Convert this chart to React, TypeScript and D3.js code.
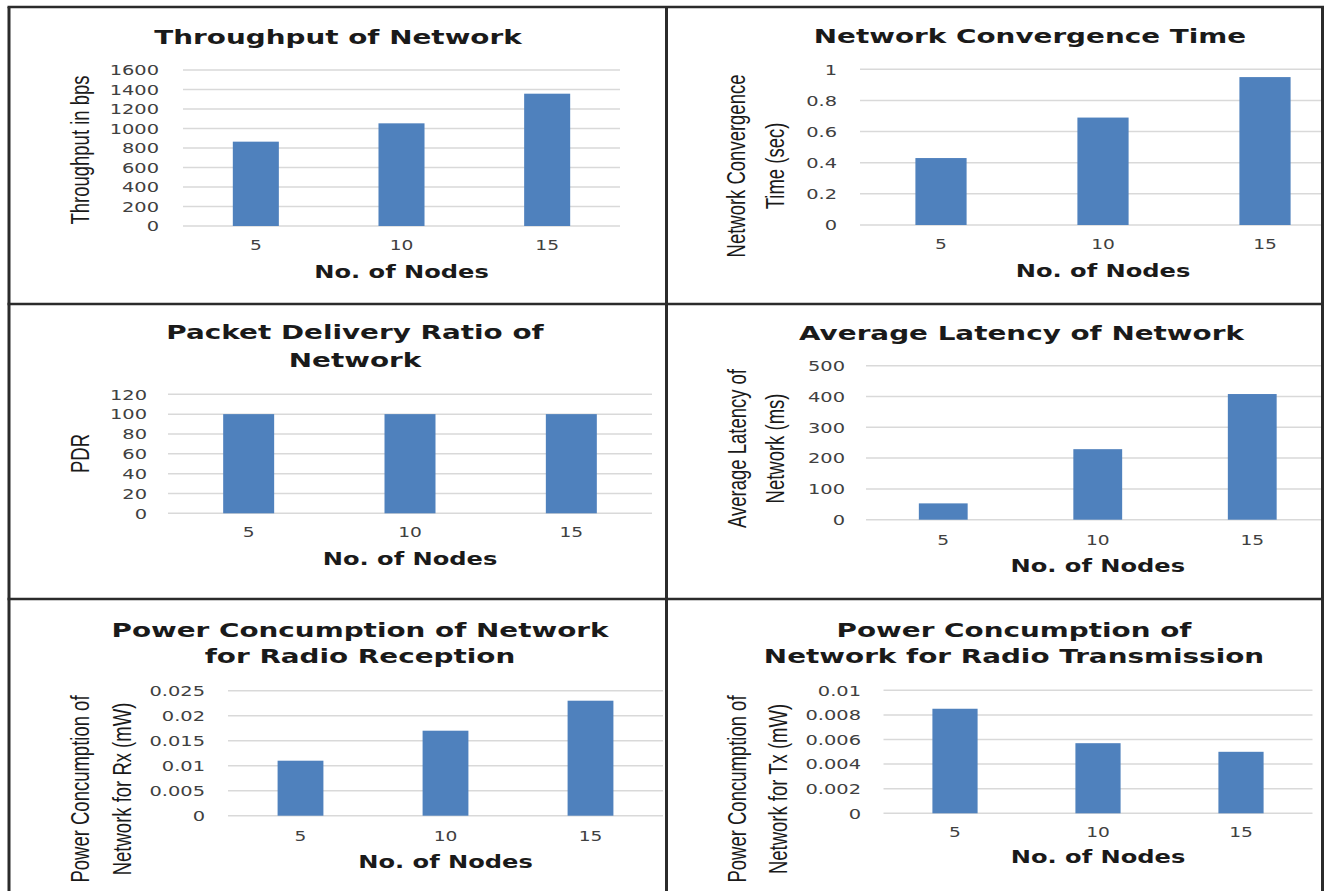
import React from "react";
import * as d3 from "d3";

// ---- data ----
const NODE_COUNTS = ["5", "10", "15"];

const THROUGHPUT_BPS = [865, 1053, 1357];
const CONVERGENCE_SEC = [0.43, 0.69, 0.95];
const PDR_PERCENT = [100, 100, 100];
const LATENCY_MS = [53, 229, 408];
const RX_POWER_MW = [0.011, 0.017, 0.023];
const TX_POWER_MW = [0.0085, 0.0057, 0.005];

const THROUGHPUT_TICKS = [0, 200, 400, 600, 800, 1000, 1200, 1400, 1600];
const CONVERGENCE_TICKS = [0, 0.2, 0.4, 0.6, 0.8, 1];
const PDR_TICKS = [0, 20, 40, 60, 80, 100, 120];
const LATENCY_TICKS = [0, 100, 200, 300, 400, 500];
const RX_TICKS = [0, 0.005, 0.01, 0.015, 0.02, 0.025];
const TX_TICKS = [0, 0.002, 0.004, 0.006, 0.008, 0.01];

const X_AXIS_TITLE = "No. of Nodes";

// ---- styling ----
const W = 1327;
const H = 891;
const BAR_COLOR = "#4f81bd";
const GRID_COLOR = "#d9d9d9";
const FRAME_COLOR = "#2b2b2b";
const TICK_FONT = "'DejaVu Sans', Verdana, sans-serif";
const TITLE_FONT = "'DejaVu Sans', Verdana, sans-serif";
const YTITLE_FONT = "'Liberation Sans', Arial, sans-serif";
// glyphs in this figure are drawn horizontally widened
const TITLE_SX = 1.45;
const AXIS_SX = 1.32;
const TICK_SX = 1.33;
const YTITLE_SX = 1.38;

type Layout = {
  clip: [number, number, number, number];
  titleX: number;
  titleBaselines: number[];
  plotX0: number;
  plotX1: number;
  yTop: number;
  yBottom: number;
  tickRight: number;
  xTickBaseline: number;
  xTitleBaseline: number;
  yTitleXs: number[];
  yTitleCY: number;
};

type PanelProps = {
  id: string;
  title: string[];
  yTitle: string[];
  values: number[];
  ticks: number[];
  layout: Layout;
};

function HText({ x, y, sx, children, ...rest }: any) {
  return (
    <text transform={`translate(${x},${y}) scale(${sx},1)`} textAnchor="middle" {...rest}>
      {children}
    </text>
  );
}

function BarPanel({ id, title, yTitle, values, ticks, layout: L }: PanelProps) {
  const x = d3
    .scaleBand<string>()
    .domain(NODE_COUNTS)
    .range([L.plotX0, L.plotX1])
    .paddingInner(0.684)
    .paddingOuter(0.342);
  const y = d3
    .scaleLinear()
    .domain([ticks[0], ticks[ticks.length - 1]])
    .range([L.yBottom, L.yTop]);
  const [cx, cy, cw, ch] = L.clip;
  const plotCenter = (L.plotX0 + L.plotX1) / 2;
  return (
    <g>
      <defs>
        <clipPath id={`clip-${id}`}>
          <rect x={cx} y={cy} width={cw} height={ch} />
        </clipPath>
      </defs>
      <g clipPath={`url(#clip-${id})`}>
        {/* title */}
        {title.map((line, i) => (
          <HText
            key={i}
            x={L.titleX}
            y={L.titleBaselines[i]}
            sx={TITLE_SX}
            fontFamily={TITLE_FONT}
            fontWeight="bold"
            fontSize={19.2}
            fill="#1a1a1a"
          >
            {line}
          </HText>
        ))}
        {/* gridlines */}
        {ticks.map((t) => (
          <line
            key={t}
            x1={L.plotX0}
            x2={L.plotX1}
            y1={y(t)}
            y2={y(t)}
            stroke={GRID_COLOR}
            strokeWidth={1.5}
          />
        ))}
        {/* y tick labels */}
        {ticks.map((t) => (
          <text
            key={`l${t}`}
            transform={`translate(${L.tickRight},${y(t) + 5.2}) scale(${TICK_SX},1)`}
            textAnchor="end"
            fontFamily={TICK_FONT}
            fontSize={14.6}
            fill="#404040"
          >
            {String(t)}
          </text>
        ))}
        {/* bars */}
        {values.map((v, i) => (
          <rect
            key={i}
            x={x(NODE_COUNTS[i])}
            width={x.bandwidth()}
            y={y(v)}
            height={y(0) - y(v)}
            fill={BAR_COLOR}
          />
        ))}
        {/* x tick labels */}
        {NODE_COUNTS.map((c) => (
          <HText
            key={c}
            x={(x(c) as number) + x.bandwidth() / 2}
            y={L.xTickBaseline}
            sx={TICK_SX}
            fontFamily={TICK_FONT}
            fontSize={14}
            fill="#404040"
          >
            {c}
          </HText>
        ))}
        {/* x axis title */}
        <HText
          x={plotCenter}
          y={L.xTitleBaseline}
          sx={AXIS_SX}
          fontFamily={TITLE_FONT}
          fontWeight="bold"
          fontSize={18.3}
          fill="#1a1a1a"
        >
          {X_AXIS_TITLE}
        </HText>
        {/* y axis title */}
        {yTitle.map((line, i) => (
          <text
            key={i}
            transform={`translate(${L.yTitleXs[i]},${L.yTitleCY}) scale(${YTITLE_SX},1) rotate(-90)`}
            textAnchor="middle"
            dominantBaseline="central"
            fontFamily={YTITLE_FONT}
            fontSize={18.5}
            fill="#1a1a1a"
          >
            {line}
          </text>
        ))}
      </g>
    </g>
  );
}

const LEFT_CLIP_X = 10;
const LEFT_CLIP_W = 655;
const RIGHT_CLIP_X = 668;
const RIGHT_CLIP_W = 653;

const PANELS: PanelProps[] = [
  {
    id: "throughput",
    title: ["Throughput of Network"],
    yTitle: ["Throughput in bps"],
    values: THROUGHPUT_BPS,
    ticks: THROUGHPUT_TICKS,
    layout: {
      clip: [LEFT_CLIP_X, 8, LEFT_CLIP_W, 295],
      titleX: 338,
      titleBaselines: [43.5],
      plotX0: 183,
      plotX1: 620,
      yTop: 70,
      yBottom: 226,
      tickRight: 159,
      xTickBaseline: 250,
      xTitleBaseline: 278,
      yTitleXs: [80],
      yTitleCY: 150,
    },
  },
  {
    id: "convergence",
    title: ["Network Convergence Time"],
    yTitle: ["Network Convergence", "Time (sec)"],
    values: CONVERGENCE_SEC,
    ticks: CONVERGENCE_TICKS,
    layout: {
      clip: [RIGHT_CLIP_X, 8, RIGHT_CLIP_W, 295],
      titleX: 1030,
      titleBaselines: [43.3],
      plotX0: 860,
      plotX1: 1346,
      yTop: 69.3,
      yBottom: 225,
      tickRight: 837,
      xTickBaseline: 249,
      xTitleBaseline: 277,
      yTitleXs: [736, 775],
      yTitleCY: 166,
    },
  },
  {
    id: "pdr",
    title: ["Packet Delivery Ratio of", "Network"],
    yTitle: ["PDR"],
    values: PDR_PERCENT,
    ticks: PDR_TICKS,
    layout: {
      clip: [LEFT_CLIP_X, 305, LEFT_CLIP_W, 293],
      titleX: 355,
      titleBaselines: [339.3, 366.7],
      plotX0: 168,
      plotX1: 652,
      yTop: 394.3,
      yBottom: 513.3,
      tickRight: 147,
      xTickBaseline: 537,
      xTitleBaseline: 565,
      yTitleXs: [80],
      yTitleCY: 453.5,
    },
  },
  {
    id: "latency",
    title: ["Average Latency of Network"],
    yTitle: ["Average Latency of", "Network (ms)"],
    values: LATENCY_MS,
    ticks: LATENCY_TICKS,
    layout: {
      clip: [RIGHT_CLIP_X, 305, RIGHT_CLIP_W, 293],
      titleX: 1021.5,
      titleBaselines: [340],
      plotX0: 866,
      plotX1: 1329.5,
      yTop: 365.7,
      yBottom: 519.7,
      tickRight: 845,
      xTickBaseline: 545,
      xTitleBaseline: 571.7,
      yTitleXs: [737, 775],
      yTitleCY: 448.5,
    },
  },
  {
    id: "rx",
    title: ["Power Concumption of Network", "for Radio Reception"],
    yTitle: ["Power Concumption of", "Network for Rx (mW)"],
    values: RX_POWER_MW,
    ticks: RX_TICKS,
    layout: {
      clip: [LEFT_CLIP_X, 600, LEFT_CLIP_W, 291],
      titleX: 360,
      titleBaselines: [636.5, 663],
      plotX0: 228,
      plotX1: 663,
      yTop: 690.7,
      yBottom: 815.7,
      tickRight: 205,
      xTickBaseline: 841,
      xTitleBaseline: 868,
      yTitleXs: [80, 122],
      yTitleCY: 789,
    },
  },
  {
    id: "tx",
    title: ["Power Concumption of", "Network for Radio Transmission"],
    yTitle: ["Power Concumption of", "Network for Tx (mW)"],
    values: TX_POWER_MW,
    ticks: TX_TICKS,
    layout: {
      clip: [RIGHT_CLIP_X, 600, RIGHT_CLIP_W, 291],
      titleX: 1014,
      titleBaselines: [636.7, 663.3],
      plotX0: 883.5,
      plotX1: 1312.5,
      yTop: 690.3,
      yBottom: 813.3,
      tickRight: 861,
      xTickBaseline: 836.7,
      xTitleBaseline: 863,
      yTitleXs: [737, 778],
      yTitleCY: 789,
    },
  },
];

export default function App() {
  return (
    <svg
      width={W}
      height={H}
      viewBox={`0 0 ${W} ${H}`}
      style={{ position: "absolute", left: 0, top: 0, background: "#fff" }}
    >
      <rect x={0} y={0} width={W} height={H} fill="#fff" />
      {PANELS.map((p) => (
        <BarPanel key={p.id} {...p} />
      ))}
      {/* panel frame */}
      <g stroke={FRAME_COLOR} fill="none">
        <line x1={9} x2={9} y1={7} y2={H} strokeWidth={3} />
        <line x1={1322.5} x2={1322.5} y1={7} y2={H} strokeWidth={3} />
        <line x1={666.5} x2={666.5} y1={7} y2={H} strokeWidth={3} />
        <line x1={7.5} x2={1324} y1={7} y2={7} strokeWidth={2.5} />
        <line x1={7.5} x2={1324} y1={304} y2={304} strokeWidth={2.5} />
        <line x1={7.5} x2={1324} y1={599} y2={599} strokeWidth={2.5} />
      </g>
    </svg>
  );
}
